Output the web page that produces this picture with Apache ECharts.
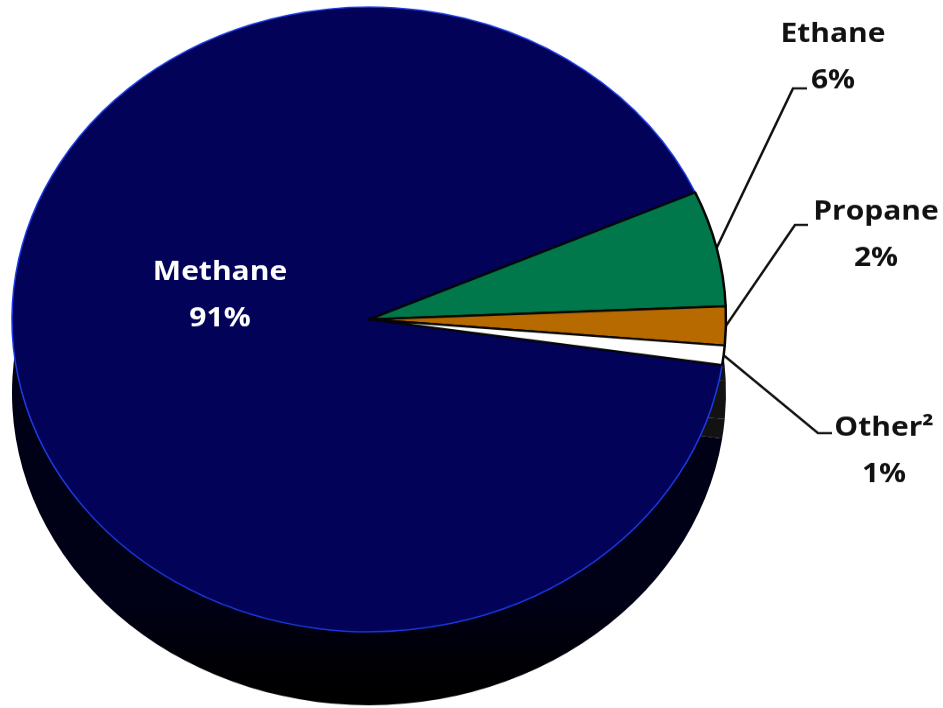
<!DOCTYPE html>
<html lang="en">
<head>
<meta charset="utf-8" />
<title>Natural gas composition</title>
<script src="https://cdn.jsdelivr.net/npm/echarts@6/dist/echarts.min.js"></script>
<style>
  html, body { margin: 0; padding: 0; background: #fff; overflow: hidden; }
  #wrap { width: 943px; height: 708px; overflow: hidden; }
  /* the pie is drawn round and squashed to give the tilted 3D look */
  #chart { width: 943px; height: 809px; transform: scaleY(0.875); transform-origin: 0 0; }
</style>
</head>
<body>
<div id="wrap"><div id="chart"></div></div>
<script>
// data
var names = ['Methane', 'Ethane', 'Propane', 'Other²'];
var shares = [91, 6, 2, 1];
var topColors = ['#020259', '#00784b', '#b66a00', '#ffffff'];
var sideColors = [null, '#121212', '#121212', '#121212'];

// where each label sits (chart units, before the vertical squash)
var labelSpots = [
  { x: 220, y: 285 },
  { x: 833, y: 13, knee: [793, 101], end: [807, 101] },
  { x: 876, y: 216, knee: [795, 257], end: [808, 257] },
  { x: 884, y: 463, knee: [818, 495], end: [832, 495] }
];

var center = [369, 365];
var depth = 84;
var radius = 357;
var startAngle = 351.6;

var sideGrad = new echarts.graphic.LinearGradient(0, 0, 0, 1, [
  { offset: 0.84, color: '#000016' },
  { offset: 0.93, color: '#000006' },
  { offset: 1, color: '#000000' }
]);

function makeData(isTop) {
  return names.map(function (n, i) {
    var methane = i === 0;
    var item = {
      name: n,
      value: shares[i],
      itemStyle: isTop ? {
        color: topColors[i],
        borderColor: methane ? '#1c3ce8' : '#050505',
        borderWidth: methane ? 1.5 : 2.5
      } : {
        color: methane ? sideGrad : sideColors[i],
        borderWidth: 0
      }
    };
    if (isTop && methane) {
      item.label = { position: 'inside', color: '#fff' };
      item.labelLine = { show: false };
    }
    return item;
  });
}

var chart = echarts.init(document.getElementById('chart'));
chart.setOption({
  backgroundColor: '#fff',
  animation: false,
  series: [
    {
      // side of the disc
      type: 'pie',
      center: [center[0], center[1] + depth],
      radius: radius,
      startAngle: startAngle,
      clockwise: true,
      silent: true,
      emphasis: { disabled: true },
      label: { show: false },
      labelLine: { show: false },
      data: makeData(false)
    },
    {
      type: 'pie',
      center: center,
      radius: radius,
      startAngle: startAngle,
      clockwise: true,
      avoidLabelOverlap: false,
      silent: true,
      emphasis: { disabled: true },
      label: {
        show: true,
        position: 'outside',
        formatter: '{b}\n{c}%',
        fontFamily: 'Open Sans',
        fontWeight: 'bold',
        fontSize: 30,
        lineHeight: 53,
        color: '#111',
        align: 'center'
      },
      labelLine: {
        show: true,
        lineStyle: { color: '#111', width: 2.5 }
      },
      labelLayout: function (p) {
        var s = labelSpots[p.dataIndex];
        var out = { x: s.x, y: s.y, align: 'center', verticalAlign: 'top' };
        if (s.knee && p.labelLinePoints) {
          out.labelLinePoints = [p.labelLinePoints[0], s.knee, s.end];
        }
        return out;
      },
      data: makeData(true)
    }
  ]
});
</script>
</body>
</html>
